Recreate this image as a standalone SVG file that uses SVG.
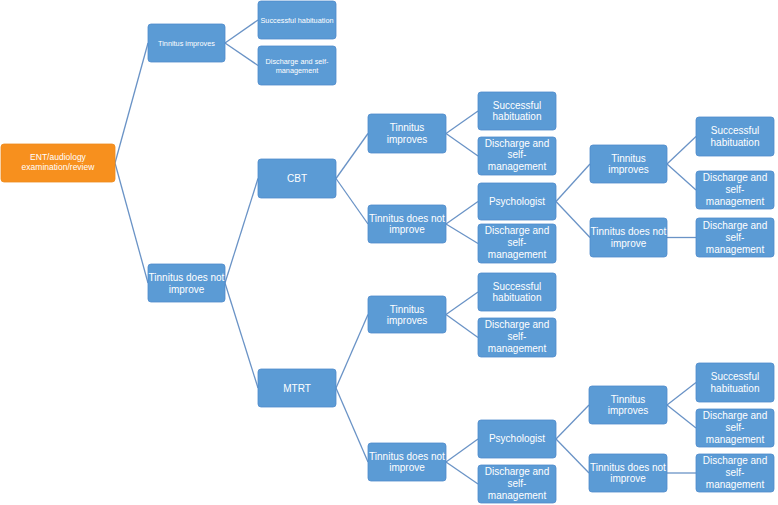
<svg xmlns="http://www.w3.org/2000/svg" width="778" height="505" viewBox="0 0 778 505">
<style>
.b{fill:#5B9BD5;stroke:#4F8ACB;stroke-width:0.8}
.o{fill:#F7901E;stroke:#EE8A1C;stroke-width:0.8}
text{font-family:"Liberation Sans",Arial,sans-serif;fill:#FFFFFF;text-anchor:middle}
.m{font-size:10px}
.s{font-size:7.3px}
.c line{stroke:#6A93C6;stroke-width:1.3}
</style>
<rect width="778" height="505" fill="#FFFFFF"/>
<g class="c" id="connectors">
<line x1="115" y1="163" x2="148" y2="43"/>
<line x1="115" y1="163" x2="148" y2="283"/>
<line x1="225" y1="43" x2="258" y2="20"/>
<line x1="225" y1="43" x2="258" y2="65.5"/>
<line x1="225" y1="283" x2="258" y2="178.5"/>
<line x1="225" y1="283" x2="258" y2="388"/>
<line x1="336" y1="178.5" x2="368" y2="133.5"/>
<line x1="336" y1="178.5" x2="368" y2="224"/>
<line x1="446" y1="133.5" x2="478" y2="111"/>
<line x1="446" y1="133.5" x2="478" y2="156"/>
<line x1="446" y1="224" x2="478" y2="201.5"/>
<line x1="446" y1="224" x2="478" y2="243.5"/>
<line x1="556" y1="201.5" x2="590" y2="164"/>
<line x1="556" y1="201.5" x2="590" y2="237.5"/>
<line x1="667" y1="164" x2="696" y2="136.5"/>
<line x1="667" y1="164" x2="696" y2="190"/>
<line x1="667" y1="237.5" x2="696" y2="237.5"/>
<line x1="336" y1="388" x2="368" y2="314.5"/>
<line x1="336" y1="388" x2="368" y2="462"/>
<line x1="446" y1="314.5" x2="478" y2="292"/>
<line x1="446" y1="314.5" x2="478" y2="337.5"/>
<line x1="446" y1="462" x2="478" y2="439"/>
<line x1="446" y1="462" x2="478" y2="484"/>
<line x1="556" y1="439" x2="589" y2="405"/>
<line x1="556" y1="439" x2="589" y2="473"/>
<line x1="667" y1="405" x2="696" y2="382.5"/>
<line x1="667" y1="405" x2="696" y2="428"/>
<line x1="667" y1="473" x2="696" y2="473"/>
</g>
<g id="ent"><rect class="o" x="1" y="144" width="114" height="38" rx="3"/><text style="font-size:8.5px"><tspan x="58" y="160">ENT/audiology</tspan><tspan x="58" y="170">examination/review</tspan></text></g>
<g id="ti1"><rect class="b" x="148" y="24" width="77" height="38" rx="3"/><text class="s" x="186.5" y="45.5">Tinnitus improves</text></g>
<g id="sh1"><rect class="b" x="258" y="1" width="78" height="38" rx="3"/><text class="s" x="297" y="22.5">Successful habituation</text></g>
<g id="dsm1"><rect class="b" x="258" y="46" width="78" height="39" rx="3"/><text class="s"><tspan x="297" y="64">Discharge and self-</tspan><tspan x="297" y="72.5">management</tspan></text></g>
<g id="tdni1"><rect class="b" x="148" y="264" width="77" height="38" rx="3"/><text class="m"><tspan x="186.5" y="281">Tinnitus does not</tspan><tspan x="186.5" y="292.5">improve</tspan></text></g>
<g id="cbt"><rect class="b" x="258" y="159" width="78" height="39" rx="3"/><text class="m" x="297" y="182">CBT</text></g>
<g id="mtrt"><rect class="b" x="258" y="369" width="78" height="38" rx="3"/><text class="m" x="297" y="391.5">MTRT</text></g>
<g id="cbt-ti"><rect class="b" x="368" y="114" width="78" height="39" rx="3"/><text class="m"><tspan x="407" y="131">Tinnitus</tspan><tspan x="407" y="142.5">improves</tspan></text></g>
<g id="cbt-ti-sh"><rect class="b" x="478" y="92" width="78" height="38" rx="3"/><text class="m"><tspan x="517" y="108.5">Successful</tspan><tspan x="517" y="120">habituation</tspan></text></g>
<g id="cbt-ti-dsm"><rect class="b" x="478" y="137" width="78" height="38" rx="3"/><text class="m"><tspan x="517" y="146.5">Discharge and</tspan><tspan x="517" y="158.3">self-</tspan><tspan x="517" y="170">management</tspan></text></g>
<g id="cbt-tdni"><rect class="b" x="368" y="205" width="78" height="38" rx="3"/><text class="m"><tspan x="407" y="221.5">Tinnitus does not</tspan><tspan x="407" y="233">improve</tspan></text></g>
<g id="cbt-psy"><rect class="b" x="478" y="183" width="78" height="37" rx="3"/><text class="m" x="517" y="204.5">Psychologist</text></g>
<g id="cbt-tdni-dsm"><rect class="b" x="478" y="224" width="78" height="39" rx="3"/><text class="m"><tspan x="517" y="234">Discharge and</tspan><tspan x="517" y="245.8">self-</tspan><tspan x="517" y="257.5">management</tspan></text></g>
<g id="cbt-psy-ti"><rect class="b" x="590" y="145" width="77" height="38" rx="3"/><text class="m"><tspan x="628.5" y="161.5">Tinnitus</tspan><tspan x="628.5" y="173">improves</tspan></text></g>
<g id="cbt-psy-tdni"><rect class="b" x="590" y="218" width="77" height="39" rx="3"/><text class="m"><tspan x="628.5" y="235">Tinnitus does not</tspan><tspan x="628.5" y="246.5">improve</tspan></text></g>
<g id="cbt-psy-ti-sh"><rect class="b" x="696" y="117" width="78" height="39" rx="3"/><text class="m"><tspan x="735" y="134">Successful</tspan><tspan x="735" y="145.5">habituation</tspan></text></g>
<g id="cbt-psy-ti-dsm"><rect class="b" x="696" y="171" width="78" height="38" rx="3"/><text class="m"><tspan x="735" y="181">Discharge and</tspan><tspan x="735" y="192.8">self-</tspan><tspan x="735" y="204.5">management</tspan></text></g>
<g id="cbt-psy-tdni-dsm"><rect class="b" x="696" y="218" width="78" height="39" rx="3"/><text class="m"><tspan x="735" y="229">Discharge and</tspan><tspan x="735" y="240.8">self-</tspan><tspan x="735" y="252.5">management</tspan></text></g>
<g id="mtrt-ti"><rect class="b" x="368" y="296" width="78" height="37" rx="3"/><text class="m"><tspan x="407" y="312.5">Tinnitus</tspan><tspan x="407" y="324">improves</tspan></text></g>
<g id="mtrt-ti-sh"><rect class="b" x="478" y="273" width="78" height="38" rx="3"/><text class="m"><tspan x="517" y="289.5">Successful</tspan><tspan x="517" y="301">habituation</tspan></text></g>
<g id="mtrt-ti-dsm"><rect class="b" x="478" y="318" width="78" height="39" rx="3"/><text class="m"><tspan x="517" y="328">Discharge and</tspan><tspan x="517" y="339.8">self-</tspan><tspan x="517" y="351.5">management</tspan></text></g>
<g id="mtrt-tdni"><rect class="b" x="368" y="443" width="78" height="38" rx="3"/><text class="m"><tspan x="407" y="459.5">Tinnitus does not</tspan><tspan x="407" y="471">improve</tspan></text></g>
<g id="mtrt-psy"><rect class="b" x="478" y="420" width="78" height="38" rx="3"/><text class="m" x="517" y="442">Psychologist</text></g>
<g id="mtrt-tdni-dsm"><rect class="b" x="478" y="465" width="78" height="38" rx="3"/><text class="m"><tspan x="517" y="475">Discharge and</tspan><tspan x="517" y="486.8">self-</tspan><tspan x="517" y="498.5">management</tspan></text></g>
<g id="mtrt-psy-ti"><rect class="b" x="589" y="386" width="78" height="38" rx="3"/><text class="m"><tspan x="628" y="402.5">Tinnitus</tspan><tspan x="628" y="414">improves</tspan></text></g>
<g id="mtrt-psy-tdni"><rect class="b" x="589" y="454" width="78" height="38" rx="3"/><text class="m"><tspan x="628" y="470.5">Tinnitus does not</tspan><tspan x="628" y="482">improve</tspan></text></g>
<g id="mtrt-psy-ti-sh"><rect class="b" x="696" y="363" width="78" height="39" rx="3"/><text class="m"><tspan x="735" y="380">Successful</tspan><tspan x="735" y="391.5">habituation</tspan></text></g>
<g id="mtrt-psy-ti-dsm"><rect class="b" x="696" y="409" width="78" height="38" rx="3"/><text class="m"><tspan x="735" y="419">Discharge and</tspan><tspan x="735" y="430.8">self-</tspan><tspan x="735" y="442.5">management</tspan></text></g>
<g id="mtrt-psy-tdni-dsm"><rect class="b" x="696" y="454" width="78" height="38" rx="3"/><text class="m"><tspan x="735" y="464">Discharge and</tspan><tspan x="735" y="475.8">self-</tspan><tspan x="735" y="487.5">management</tspan></text></g>
</svg>
